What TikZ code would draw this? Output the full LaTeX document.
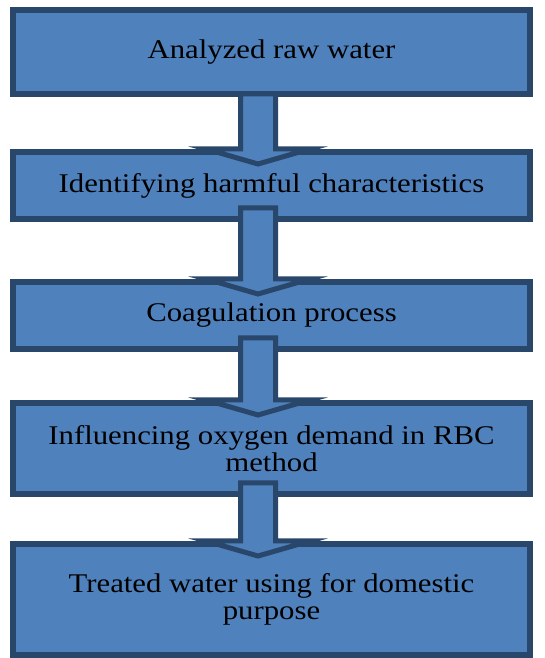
\documentclass[tikz,border=0pt]{standalone}
\usepackage{fontspec}
\setmainfont{Liberation Serif}[FakeStretch=1.14]
\usetikzlibrary{calc}
\definecolor{boxfill}{HTML}{4F81BD}
\definecolor{boxline}{HTML}{29466B}
\tikzset{
  stepbox/.style={draw=boxline, fill=boxfill, line width=6pt, outer sep=0pt,
    minimum width=517pt, inner sep=0pt, align=center,
    font=\fontsize{27}{27.5}\selectfont},
  flowarrow/.style={draw=boxline, fill=boxfill, line width=5pt, line join=miter}
}

\begin{document}
\begin{tikzpicture}[x=1pt,y=1pt]
	\useasboundingbox (0,0) rectangle (545,658);
	\node[stepbox, minimum height=84pt] (raw) at (271.5,606) {Analyzed raw water};
	\node[stepbox, minimum height=67pt] (harm) at (271.5,472.5) {Identifying harmful characteristics};
	\node[stepbox, minimum height=67pt] (coag) at (271.5,342.5) {Coagulation process};
	\node[stepbox, minimum height=91pt] (rbc) at (271.5,209.5) {Influencing oxygen demand in RBC\\method};
	\node[stepbox, minimum height=111pt] (treat) at (271.5,58.5) {Treated water using for domestic\\purpose};
	\foreach \a/\b/\s in {raw/harm/0, harm/coag/11, coag/rbc/11, rbc/treat/11}
	\filldraw[flowarrow] ($(\a.south)+(-31,\s)$) -- ($(\a.south)+(4,\s)$)
		-- ($(\b.north)+(4,3)$) -- ($(\b.north)+(38.5,3)$) -- ($(\b.north)+(-13.5,-12)$)
		-- ($(\b.north)+(-65.5,3)$) -- ($(\b.north)+(-31,3)$) -- cycle;
\end{tikzpicture}
\end{document}
